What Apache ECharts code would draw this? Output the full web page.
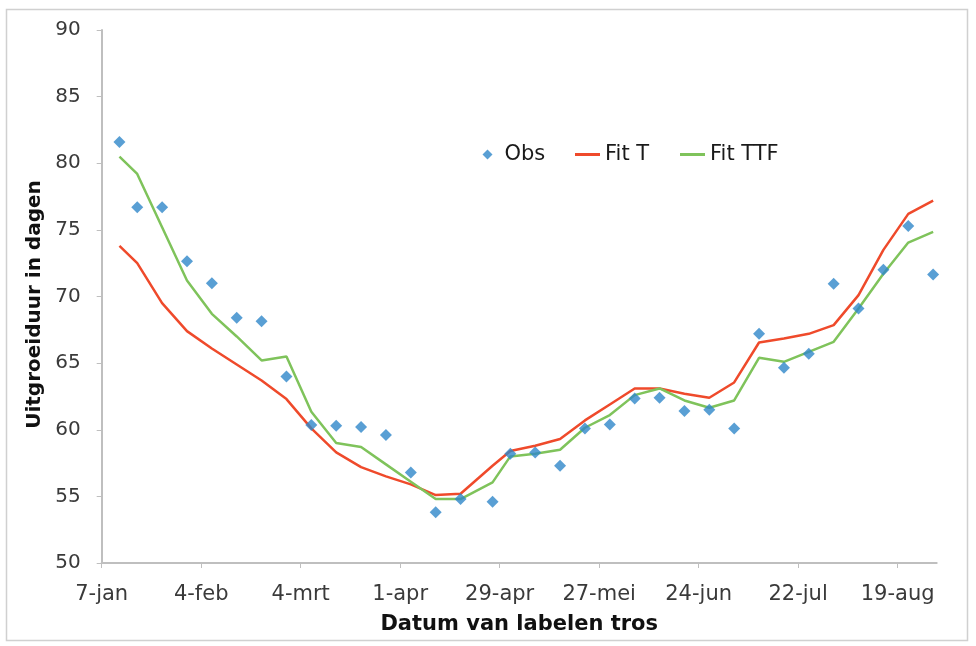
<!DOCTYPE html>
<html><head><meta charset="utf-8">
<script src="https://cdn.jsdelivr.net/npm/echarts@6/dist/echarts.min.js"></script>
<style>html,body{margin:0;padding:0;background:#fff}#c{width:976px;height:646px}</style>
</head><body><div id="c"></div>
<script>
const startDate = '2013-01-07';
const endDate = '2013-08-30';
const dates = ['2013-01-12','2013-01-17','2013-01-24','2013-01-31','2013-02-07','2013-02-14','2013-02-21','2013-02-28',
  '2013-03-07','2013-03-14','2013-03-21','2013-03-28','2013-04-04','2013-04-11','2013-04-18','2013-04-27',
  '2013-05-02','2013-05-09','2013-05-16','2013-05-23','2013-05-30','2013-06-06','2013-06-13','2013-06-20',
  '2013-06-27','2013-07-04','2013-07-11','2013-07-18','2013-07-25','2013-08-01','2013-08-08','2013-08-15',
  '2013-08-22','2013-08-29'];
const obs = [81.6, 76.7, 76.7, 72.65, 71.0, 68.4, 68.15, 64.0, 60.35, 60.3, 60.2, 59.6, 56.8, 53.8, 54.8, 54.6,
  58.2, 58.3, 57.3, 60.1, 60.4, 62.35, 62.4, 61.4, 61.5, 60.1, 67.2, 64.65, 65.7, 70.95, 69.1, 72.0, 75.3, 71.65];
const fitT = [73.8, 72.5, 69.5, 67.4, 66.1, 64.9, 63.7, 62.3, 60.1, 58.3, 57.2, 56.5, 55.9, 55.1, 55.2, 57.3,
  58.4, 58.8, 59.3, 60.7, 61.9, 63.1, 63.1, 62.7, 62.4, 63.55, 66.55, 66.85, 67.2, 67.85, 70.1, 73.5, 76.2, 77.2];
const fitTTF = [80.5, 79.2, 75.2, 71.2, 68.7, 67.0, 65.2, 65.5, 61.35, 59.0, 58.7, 57.4, 56.1, 54.8, 54.8, 56.05,
  58.0, 58.2, 58.5, 60.15, 61.1, 62.6, 63.1, 62.2, 61.65, 62.2, 65.4, 65.1, 65.85, 66.6, 69.1, 71.7, 74.05, 74.85];
const tickLabels = ['7-jan','4-feb','4-mrt','1-apr','29-apr','27-mei','24-jun','22-jul','19-aug'];
const seriesNames = ['Obs', 'Fit T', 'Fit TTF'];

function dayOffset(d) { return Math.round((Date.parse(d) - Date.parse(startDate)) / 86400000); }
const xs = dates.map(dayOffset);
const pairs = arr => arr.map((v, i) => [xs[i], v]);

const FONT = 'DejaVu Sans';
const AX = '#bfbfbf';
const BLUE = '#2f87c9', RED = '#ef4a2b', GREEN = '#7fc35b';
const legendText = {fontFamily: FONT, fontSize: 21, color: '#1a1a1a'};
const chart = echarts.init(document.getElementById('c'), null, {renderer: 'canvas'});
chart.setOption({
  animation: false,
  backgroundColor: '#fff',
  graphic: [{
    type: 'rect', shape: {x: 6.5, y: 9.5, width: 961, height: 631},
    style: {fill: 'none', stroke: '#d0d0d0', lineWidth: 1.5}, silent: true, z: -1
  }],
  grid: {left: 101.7, right: 39.3, top: 30, bottom: 83, containLabel: false},
  legend: [
    {data: [{name: seriesNames[0], icon: 'diamond'}], left: 477.5, top: 139, itemWidth: 10, itemHeight: 10,
      textStyle: Object.assign({padding: [0, 0, 0, 7]}, legendText)},
    {data: [{name: seriesNames[1], icon: 'rect'}], left: 570, top: 139, itemWidth: 25, itemHeight: 3,
      textStyle: legendText},
    {data: [{name: seriesNames[2], icon: 'rect'}], left: 675, top: 139, itemWidth: 25, itemHeight: 3,
      textStyle: legendText}
  ],
  xAxis: {
    type: 'value', min: 0, max: dayOffset(endDate), interval: 28,
    name: 'Datum van labelen tros', nameLocation: 'middle', nameGap: 51,
    nameTextStyle: {fontFamily: FONT, fontSize: 21, fontWeight: 'bold', color: '#111'},
    axisLine: {lineStyle: {color: AX, width: 2}},
    axisTick: {show: true, length: 5, lineStyle: {color: AX, width: 1}},
    axisLabel: {fontFamily: FONT, fontSize: 21, color: '#3a3a3a', margin: 21,
      showMaxLabel: false,
      formatter: v => tickLabels[Math.round(v / 28)] || ''},
    splitLine: {show: false}
  },
  yAxis: {
    type: 'value', min: 50, max: 90, interval: 5,
    name: 'Uitgroeiduur in dagen', nameLocation: 'middle', nameGap: 51, nameRotate: 90,
    nameTextStyle: {fontFamily: FONT, fontSize: 20, fontWeight: 'bold', color: '#111', padding: [0, 16, 0, 0]},
    axisLine: {show: true, lineStyle: {color: AX, width: 2}},
    axisTick: {show: true, length: 5, lineStyle: {color: AX, width: 1}},
    axisLabel: {fontFamily: FONT, fontSize: 20, color: '#3a3a3a', margin: 21},
    splitLine: {show: false}
  },
  series: [
    {name: seriesNames[0], type: 'scatter', data: pairs(obs), symbol: 'diamond', symbolSize: 12,
      itemStyle: {color: BLUE}, z: 3},
    {name: seriesNames[1], type: 'line', data: pairs(fitT), symbol: 'none', showSymbol: false,
      lineStyle: {color: RED, width: 2.5}, itemStyle: {color: RED}, z: 2},
    {name: seriesNames[2], type: 'line', data: pairs(fitTTF), symbol: 'none', showSymbol: false,
      lineStyle: {color: GREEN, width: 2.5}, itemStyle: {color: GREEN}, z: 2}
  ]
});
</script></body></html>
